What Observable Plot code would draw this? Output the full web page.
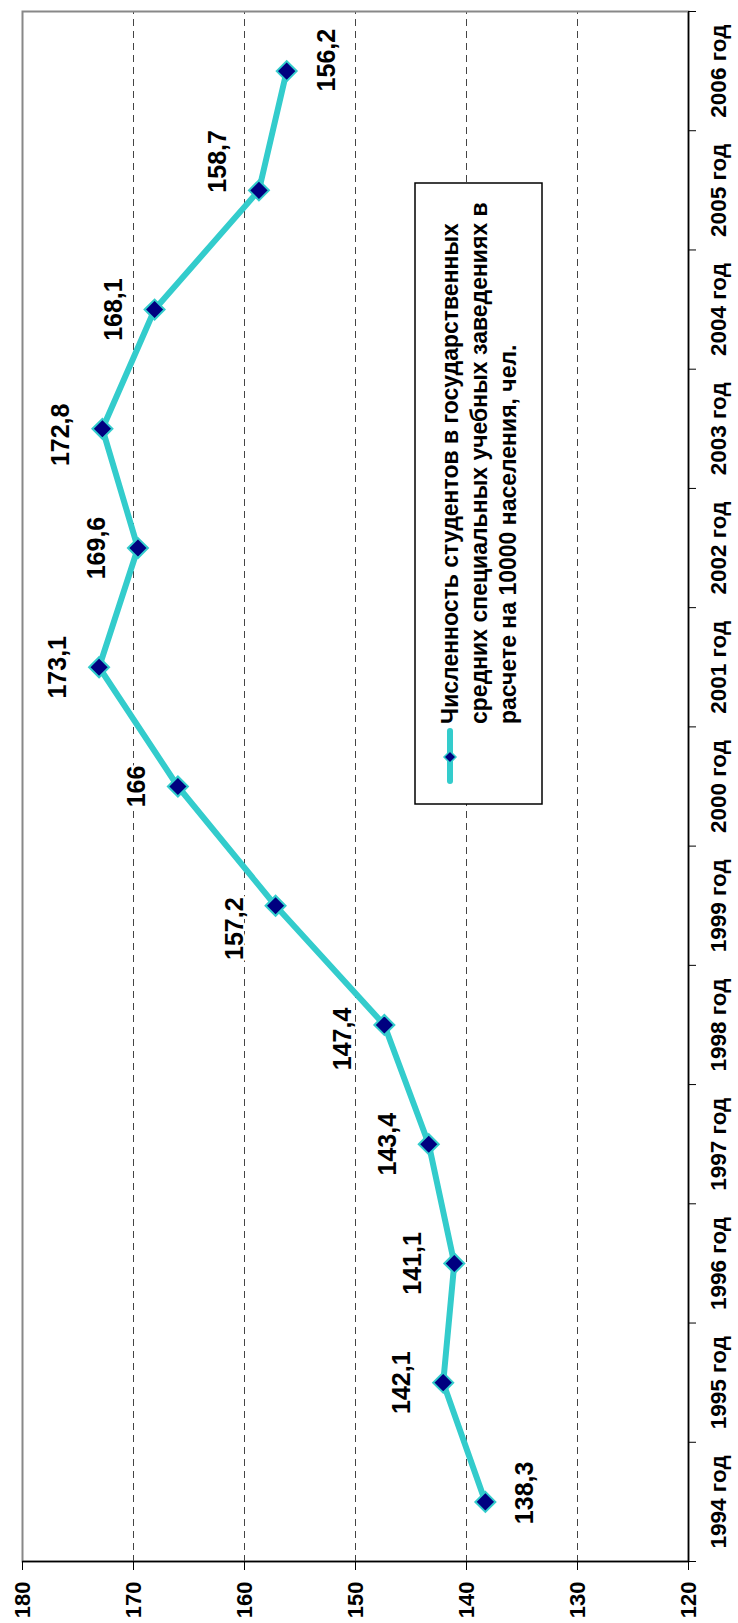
<!DOCTYPE html>
<html>
<head>
<meta charset="utf-8">
<script src="https://cdn.jsdelivr.net/npm/d3@7"></script>
<script src="https://cdn.jsdelivr.net/npm/@observablehq/plot@0.6"></script>
<style>
  html, body { margin: 0; padding: 0; background: #fff; overflow: hidden; }
  #wrap { position: relative; width: 738px; height: 1623px; overflow: hidden; }
  #wrap svg { position: absolute; left: 0; top: 0; max-width: none !important; width: 1623px !important; height: 738px !important;
              transform-origin: 0 0; transform: translate(0px, 1623px) rotate(-90deg); }
</style>
</head>
<body>
<div id="wrap"></div>
<script>
// ---- data ----
const years = [1994, 1995, 1996, 1997, 1998, 1999, 2000, 2001, 2002, 2003, 2004, 2005, 2006];
const values = [138.3, 142.1, 141.1, 143.4, 147.4, 157.2, 166, 173.1, 169.6, 172.8, 168.1, 158.7, 156.2];
const valueTicks = [120, 130, 140, 150, 160, 170, 180];
const gridTicks = [130, 140, 150, 160, 170];
const yearSuffix = "год";
const legendLines = [
  "Численность студентов в государственных",
  "средних специальных учебных заведениях в",
  "расчете на 10000 населения, чел."
];
const labelsBelow = [1994, 2006];

// label placement tweaks (style only, pixels along the year axis)
const labelShift = { 1994: 9, 1998: -14, 1999: -23, 2003: -6, 2005: 29, 2006: 11 };

const data = years.map((year, i) => ({
  year, value: values[i], label: String(values[i]).replace(".", ",")
}));
const boundaries = d3.range(years[0] - 0.5, years[years.length - 1] + 1, 1);

const font = "'Liberation Sans', Arial, sans-serif";
const lineColor = "#33CCCC";
const markerColor = "#000080";

const labelMarks = data.map(d => Plot.text([d], {
  x: "year", y: "value", text: "label",
  dy: labelsBelow.includes(d.year) ? 40 : -41,
  dx: labelShift[d.year] || 0,
  fontSize: 25, fontWeight: "bold", fill: "black", stroke: "white", strokeWidth: 5
}));

const chart = Plot.plot({
  width: 1623,
  height: 738,
  marginLeft: 61,
  marginRight: 12,
  marginTop: 22,
  marginBottom: 50,
  style: { fontFamily: font, background: "white", color: "black" },
  x: { type: "linear", domain: [years[0] - 0.5, years[years.length - 1] + 0.5] },
  y: { domain: [120, 180] },
  marks: [
    Plot.gridY(gridTicks, { stroke: "#444", strokeOpacity: 1, strokeWidth: 1, strokeDasharray: "7,5" }),
    Plot.frame({ stroke: "#888", strokeWidth: 2 }),
    Plot.axisY({ ticks: valueTicks, tickSize: 8, tickPadding: 12, tickFormat: d => String(d),
                 fontSize: 22, fontWeight: "bold", label: null, stroke: "black" }),
    Plot.axisX({ ticks: boundaries, tickSize: 8, tickFormat: () => "", label: null }),
    Plot.axisX({ ticks: years, tickSize: 0, tickPadding: 22, tickFormat: d => `${d} ${yearSuffix}`,
                 fontSize: 22.5, fontWeight: "bold", label: null }),
    Plot.ruleX([years[0] - 0.5], { stroke: "black", strokeWidth: 1.5 }),
    Plot.ruleY([120], { stroke: "black", strokeWidth: 1.5 }),
    Plot.line(data, { x: "year", y: "value", stroke: lineColor, strokeWidth: 6 }),
    Plot.dot(data, { x: "year", y: "value", symbol: "diamond2", r: 9, fill: markerColor,
                     stroke: lineColor, strokeWidth: 2 }),
    ...labelMarks
  ]
});

// ---- legend (inside plot area, in unrotated coordinates) ----
const svg = d3.select(chart);
const lg = svg.append("g").attr("font-family", font).attr("text-anchor", "start");
lg.append("rect").attr("x", 819).attr("y", 415).attr("width", 621).attr("height", 127)
  .attr("fill", "white").attr("stroke", "black").attr("stroke-width", 1.5);
lg.append("line").attr("x1", 842).attr("x2", 892).attr("y1", 450).attr("y2", 450)
  .attr("stroke", lineColor).attr("stroke-width", 6).attr("stroke-linecap", "round");
lg.append("path").attr("d", d3.symbol(d3.symbolDiamond2, 92)())
  .attr("transform", "translate(866,450)").attr("fill", markerColor)
  .attr("stroke", lineColor).attr("stroke-width", 1.5);
legendLines.forEach((t, i) => {
  lg.append("text").attr("x", 899).attr("y", 450 + i * 29).attr("dy", "0.36em")
    .attr("text-anchor", "start")
    .attr("font-size", 23).attr("font-weight", "bold").attr("fill", "black").text(t);
});

document.getElementById("wrap").appendChild(chart);
</script>
</body>
</html>
